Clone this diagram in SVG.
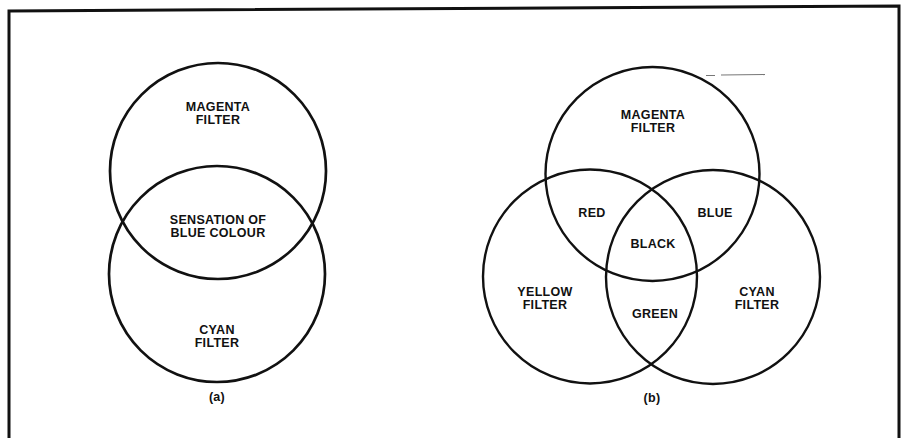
<svg xmlns="http://www.w3.org/2000/svg" width="908" height="438" viewBox="0 0 908 438">
<style>
.bg{fill:#ffffff}
.frame{fill:none;stroke:#111;stroke-width:3}
.ring{fill:none;stroke:#111}
.ra{stroke-width:2.7}
.rb{stroke-width:2.4}
.lbl{font-family:"Liberation Sans",Arial,sans-serif;font-weight:bold;font-size:12.5px;letter-spacing:0.3px;fill:#111;text-anchor:middle}
.mark{stroke:#777;stroke-width:1.2;fill:none}
</style>
<rect class="bg" x="0" y="0" width="908" height="438"/>
<path class="frame" d="M9,438 L9,11 L899,6 L899,438"/>
<g id="connectors"></g>
<g id="diagram-a">
  <g id="a-magenta">
    <circle class="ring ra" cx="218" cy="171" r="108"/>
    <text class="lbl" x="218" y="111">MAGENTA</text>
    <text class="lbl" x="218" y="123.5">FILTER</text>
  </g>
  <g id="a-cyan">
    <circle class="ring ra" cx="217" cy="274" r="108"/>
    <text class="lbl" x="217" y="334">CYAN</text>
    <text class="lbl" x="217" y="347">FILTER</text>
  </g>
  <g id="a-overlap">
    <text class="lbl" x="218" y="224">SENSATION OF</text>
    <text class="lbl" x="218" y="236.5">BLUE COLOUR</text>
  </g>
  <text class="lbl" x="217" y="401">(a)</text>
</g>
<g id="diagram-b">
  <g id="b-magenta">
    <circle class="ring rb" cx="652.5" cy="174" r="107"/>
    <text class="lbl" x="653" y="118.5">MAGENTA</text>
    <text class="lbl" x="653" y="131.5">FILTER</text>
  </g>
  <g id="b-yellow">
    <circle class="ring rb" cx="590" cy="276.5" r="107"/>
    <text class="lbl" x="545" y="295.5">YELLOW</text>
    <text class="lbl" x="545" y="308.5">FILTER</text>
  </g>
  <g id="b-cyan">
    <circle class="ring rb" cx="713" cy="277" r="107"/>
    <text class="lbl" x="757" y="295.5">CYAN</text>
    <text class="lbl" x="757" y="308.5">FILTER</text>
  </g>
  <g id="b-red"><text class="lbl" x="592" y="217">RED</text></g>
  <g id="b-blue"><text class="lbl" x="715" y="217">BLUE</text></g>
  <g id="b-black"><text class="lbl" x="653" y="248">BLACK</text></g>
  <g id="b-green"><text class="lbl" x="655" y="318">GREEN</text></g>
  <text class="lbl" x="652" y="402">(b)</text>
</g>
<path class="mark" d="M706,75.5 L715,75.5 M721,75 L765,74.5"/>
</svg>
